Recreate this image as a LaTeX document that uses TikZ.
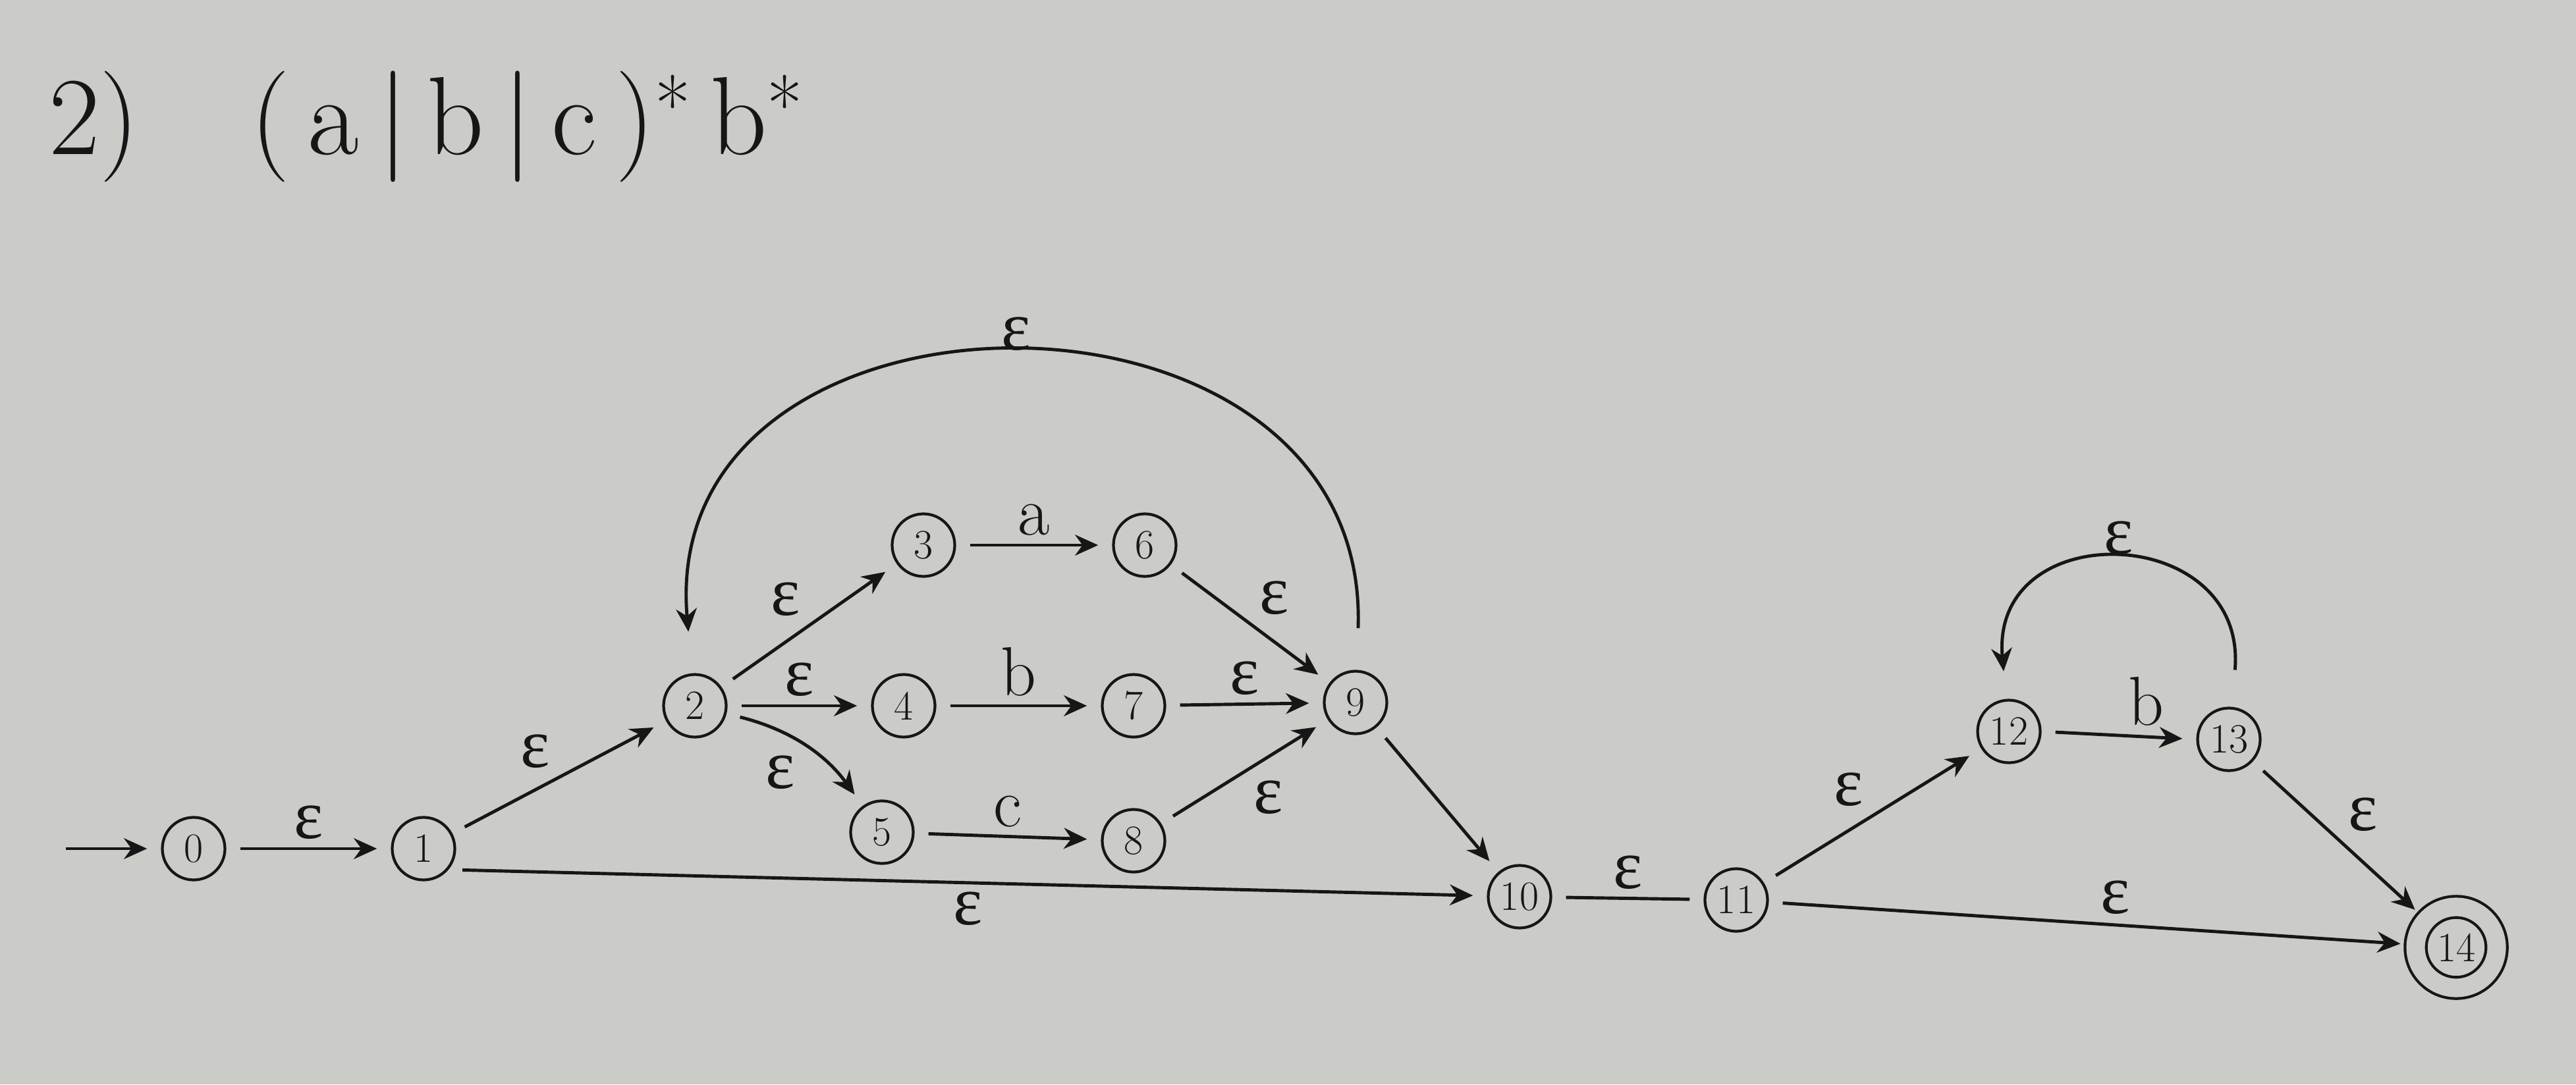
\documentclass[tikz,border=0pt]{standalone}
\usepackage{fontspec}
\newfontfamily\epsfont{Liberation Serif}
\usetikzlibrary{arrows.meta}
\definecolor{paper}{RGB}{203,203,199}
\definecolor{ink}{RGB}{22,22,22}
\newcommand{\eps}{{\epsfont ε}}

\begin{document}
\begin{tikzpicture}[->,>={Stealth[length=10pt,width=9pt]},shorten >=6pt,shorten <=6pt,auto,line width=1.4pt,draw=ink,text=ink,
    main node/.style={circle,draw=ink,line width=1.2pt,minimum size=0.95cm,inner sep=0pt,font=\fontsize{18}{18}\selectfont},
    final node/.style={main node,double=paper,double distance=8pt,minimum size=1.23cm}]
    \fill[paper,-] (0,0) rectangle (39.11,16.47);
    \useasboundingbox (0,0) rectangle (39.11,16.47);

    \node[anchor=west,font=\fontsize{48}{58}\selectfont] (title) at (0.6,14.55) {2)\quad(\,a\,|\,b\,|\,c\,)\textsuperscript{*}\,b\textsuperscript{*}};

    \coordinate (start) at (1.0,3.58);
    \node[main node] (0) at (2.94,3.58) {0};
    \node[main node] (1) at (6.43,3.58) {1};
    \node[main node] (2) at (10.55,5.75) {2};
    \node[main node] (3) at (14.02,8.19) {3};
    \node[main node] (4) at (13.72,5.75) {4};
    \node[main node] (5) at (13.39,3.83) {5};
    \node[main node] (6) at (17.38,8.19) {6};
    \node[main node] (7) at (17.21,5.75) {7};
    \node[main node] (8) at (17.21,3.70) {8};
    \node[main node] (9) at (20.58,5.80) {9};
    \node[main node] (10) at (23.07,2.85) {10};
    \node[main node] (11) at (26.36,2.80) {11};
    \node[main node] (12) at (30.50,5.36) {12};
    \node[main node] (13) at (33.84,5.24) {13};
    \node[final node] (14) at (37.29,2.08) {14};

    \draw[shorten <=0pt] (start) -- (0);

    \path[every node/.style={font=\fontsize{30}{32}\selectfont}]
        (0) edge node {\eps} (1)
        (1) edge node {\eps} (2)
        (1.-40) edge node[swap] {\eps} (10)
        (2) edge node {\eps} (3)
        (2) edge node {\eps} (4)
        (2) edge[bend left=20] node[swap] {\eps} (5)
        (3) edge node {a} (6)
        (4) edge node {b} (7)
        (5) edge node {c} (8)
        (6) edge node {\eps} (9)
        (7) edge node {\eps} (9)
        (8) edge node[swap] {\eps} (9)
        (9) edge[out=88,in=95,looseness=1.6,shorten <=18pt,shorten >=18pt] node[swap] {\eps} (2)
        (9) edge (10)
        (10) edge[-] node {\eps} (11)
        (11) edge node {\eps} (12)
        (11) edge node {\eps} (14)
        (12.east) edge node {b} (13.west)
        (13) edge[out=85,in=95,looseness=2.1,shorten <=16pt,shorten >=12pt] node[swap] {\eps} (12)
        (13) edge node {\eps} (14)
        ;
\end{tikzpicture}
\end{document}
